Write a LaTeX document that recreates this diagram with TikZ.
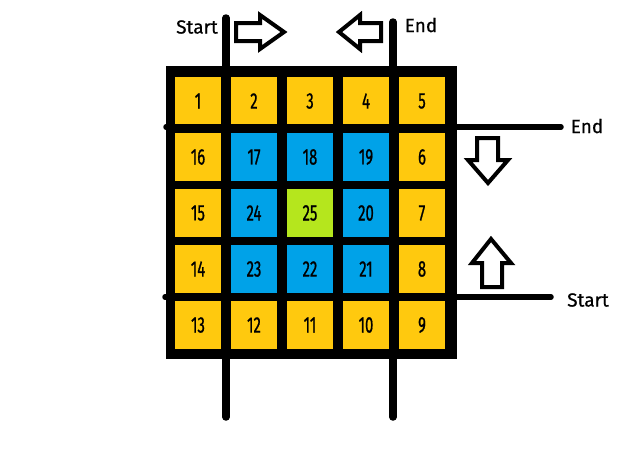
\documentclass[tikz,border=0pt]{standalone}
\usepackage{fontspec}
\setmainfont{Fira Sans}[FakeBold=0.6]
\newfontfamily\numfont{Fira Sans}[FakeStretch=0.66, FakeBold=0.8]
\definecolor{gold}{HTML}{FFC90E}
\definecolor{sky}{HTML}{00A2E8}
\definecolor{lime}{HTML}{B5E61D}
\tikzstyle{cell}=[rectangle, minimum width=46pt, minimum height=48pt, inner sep=0pt, font=\numfont\fontsize{22.5}{22.5}\selectfont]
\tikzstyle{rail}=[draw=black, line width=7.5pt, line cap=round]
\tikzstyle{hrail}=[draw=black, line width=5.5pt, line cap=round]
\tikzstyle{hollow}=[draw=black, fill=white, line width=4pt, line join=miter]
\tikzstyle{word}=[inner sep=0pt, font=\fontsize{19}{19}\selectfont]

\begin{document}
\begin{tikzpicture}[x=1pt, y=-1pt]
	\useasboundingbox (0,0) rectangle (628,451);
	\fill[black] (166,66) rectangle (457,359);
	\node[cell, fill=gold] (c1) at (198,101) {1};
	\node[cell, fill=gold] (c2) at (254,101) {2};
	\node[cell, fill=gold] (c3) at (310,101) {3};
	\node[cell, fill=gold] (c4) at (366,101) {4};
	\node[cell, fill=gold] (c5) at (422,101) {5};
	\node[cell, fill=gold] (c16) at (198,157) {16};
	\node[cell, fill=sky] (c17) at (254,157) {17};
	\node[cell, fill=sky] (c18) at (310,157) {18};
	\node[cell, fill=sky] (c19) at (366,157) {19};
	\node[cell, fill=gold] (c6) at (422,157) {6};
	\node[cell, fill=gold] (c15) at (198,213) {15};
	\node[cell, fill=sky] (c24) at (254,213) {24};
	\node[cell, fill=lime] (c25) at (310,213) {25};
	\node[cell, fill=sky] (c20) at (366,213) {20};
	\node[cell, fill=gold] (c7) at (422,213) {7};
	\node[cell, fill=gold] (c14) at (198,269) {14};
	\node[cell, fill=sky] (c23) at (254,269) {23};
	\node[cell, fill=sky] (c22) at (310,269) {22};
	\node[cell, fill=sky] (c21) at (366,269) {21};
	\node[cell, fill=gold] (c8) at (422,269) {8};
	\node[cell, fill=gold] (c13) at (198,325) {13};
	\node[cell, fill=gold] (c12) at (254,325) {12};
	\node[cell, fill=gold] (c11) at (310,325) {11};
	\node[cell, fill=gold] (c10) at (366,325) {10};
	\node[cell, fill=gold] (c9) at (422,325) {9};
	\coordinate (topA) at (226,18);
	\coordinate (botA) at (226,417);
	\coordinate (topB) at (393,22);
	\coordinate (botB) at (393,417);
	\coordinate (leftA) at (166,127);
	\coordinate (rightA) at (561,127);
	\coordinate (leftB) at (165,297);
	\coordinate (rightB) at (551,297);
	\draw[rail] (topA) -- (botA);
	\draw[rail] (topB) -- (botB);
	\draw[hrail] (leftA) -- (rightA);
	\draw[hrail] (leftB) -- (rightB);
	\node[word] (startTop) at (197,27) {Start};
	\node[word] (endTop) at (421,25) {End};
	\node[word] (endSide) at (587,126) {End};
	\node[word] (startSide) at (588,300) {Start};
	\draw[hollow] (236,23) -- (260,23) -- (260,15) -- (284,32) -- (260,49) -- (260,41) -- (236,41) -- cycle;
	\draw[hollow] (381,23) -- (360,23) -- (360,15) -- (339,32) -- (360,49) -- (360,41) -- (381,41) -- cycle;
	\draw[hollow] (477,138) -- (498,138) -- (498,160) -- (508,160) -- (488,183) -- (468,160) -- (477,160) -- cycle;
	\draw[hollow] (482,287) -- (502,287) -- (502,263) -- (511,263) -- (491,239) -- (472,263) -- (482,263) -- cycle;
\end{tikzpicture}
\end{document}
